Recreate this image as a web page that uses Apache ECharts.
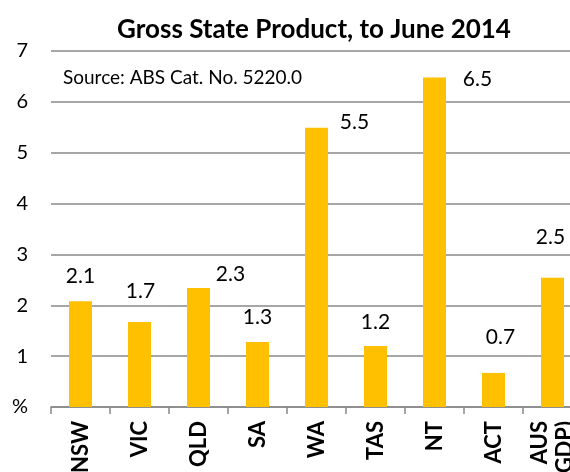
<!DOCTYPE html>
<html>
<head>
<meta charset="utf-8">
<script src="https://cdn.jsdelivr.net/npm/echarts@6/dist/echarts.min.js"></script>
<style>
  html, body { margin: 0; padding: 0; background: #fff; }
  #chart { width: 570px; height: 472px; }
</style>
</head>
<body>
<div id="chart"></div>
<script>
var categories = ['NSW', 'VIC', 'QLD', 'SA', 'WA', 'TAS', 'NT', 'ACT', 'AUS\n(GDP)'];
var growth = [2.08, 1.67, 2.34, 1.28, 5.49, 1.2, 6.48, 0.67, 2.54];
var yTicks = ['%', '1', '2', '3', '4', '5', '6', '7'];

// label nudges, like the hand placed labels in the original
var labelOffsets = [[0, -15], [1, -21], [32, -4], [0, -15], [38, 4], [0, -14], [43, 12], [7, -26], [-2, -31]];

var font = 'Lato, "Open Sans", sans-serif';
var gridColor = '#888';

var chart = echarts.init(document.getElementById('chart'));

var seriesData = growth.map(function(v, i) {
  return {
    value: v,
    label: {offset: labelOffsets[i]}
  };
});

chart.setOption({
  animation: false,
  backgroundColor: '#fff',
  title: {
    text: 'Gross State Product, to June 2014',
    left: 309,
    top: 12,
    textAlign: 'center',
    textStyle: {
      fontFamily: font,
      fontWeight: 'bold',
      fontSize: 26,
      color: '#000'
    }
  },
  graphic: [{
    type: 'text',
    left: 63,
    top: 68,
    style: {
      text: 'Source: ABS Cat. No. 5220.0',
      fontFamily: font,
      fontSize: 19,
      fill: '#000'
    }
  }],
  grid: {
    left: 51,
    top: 51,
    width: 531,
    bottom: 65,
    outerBoundsMode: 'none'
  },
  xAxis: {
    type: 'category',
    data: categories,
    axisLine: {lineStyle: {color: gridColor, width: 1.5}},
    axisTick: {show: true, length: 7, lineStyle: {color: gridColor, width: 1.5}},
    axisLabel: {
      rotate: 90,
      margin: 14,
      interval: 0,
      fontFamily: font,
      fontWeight: 'bold',
      fontSize: 22,
      lineHeight: 25,
      color: '#000'
    },
    splitLine: {show: false}
  },
  yAxis: {
    type: 'value',
    min: 0,
    max: 7,
    interval: 1,
    axisLine: {show: false},
    axisTick: {show: false},
    axisLabel: {
      margin: 23,
      fontFamily: font,
      fontSize: 20,
      color: '#000',
      formatter: function(v) { return yTicks[Math.round(v)]; }
    },
    splitLine: {lineStyle: {color: gridColor, width: 1.5}}
  },
  series: [{
    type: 'bar',
    data: seriesData,
    barWidth: 23,
    itemStyle: {color: '#ffc000'},
    label: {
      show: true,
      position: 'top',
      distance: 0,
      lineHeight: 20,
      fontFamily: font,
      fontSize: 21,
      color: '#000',
      formatter: function(p) { return p.value.toFixed(1); }
    }
  }]
});
</script>
</body>
</html>
